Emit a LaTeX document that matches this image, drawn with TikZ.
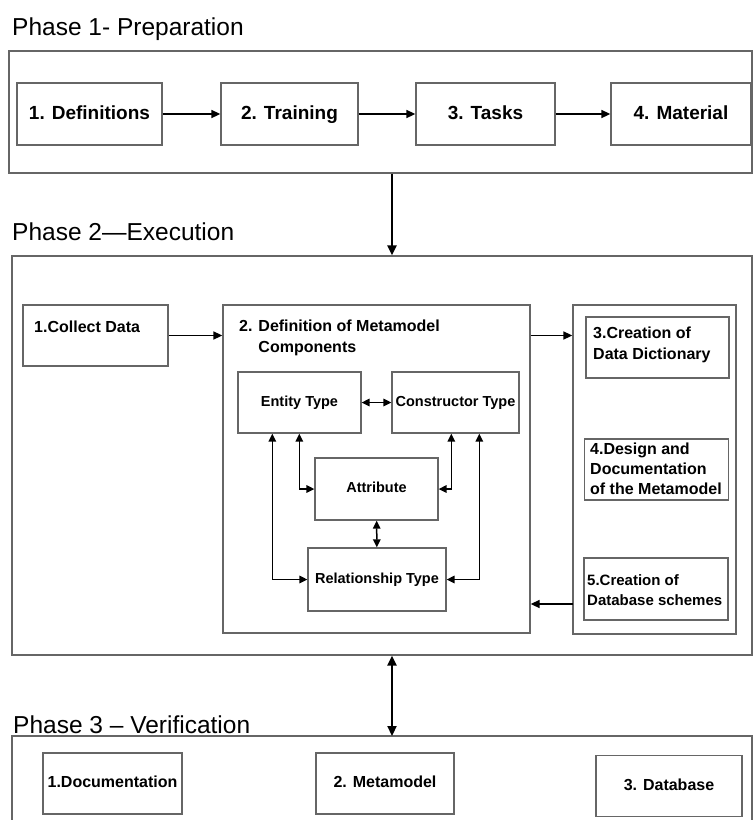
\documentclass[tikz,border=0pt]{standalone}
\usepackage{fontspec}
\setmainfont{Liberation Sans}
\usetikzlibrary{arrows.meta,positioning}

\begin{document}
\begin{tikzpicture}[x=1pt,y=-1pt,
    frame/.style={draw=black!60,line width=1.3pt,inner sep=0pt},
    box/.style={
    % The shape:
    rectangle,inner sep=0pt,
    % The rest
    draw=black!60,line width=1.3pt,font=\bfseries},
    stage/.style={box,text height=14pt,text depth=4pt,font=\bfseries\fontsize{19}{22}\selectfont},
    part/.style={box,text height=10.5pt,text depth=3pt,font=\bfseries\fontsize{14.5}{17}\selectfont},
    check/.style={box,text height=12pt,text depth=3.5pt,font=\bfseries\fontsize{16}{19}\selectfont},
    title/.style={anchor=base west,inner sep=0pt,font=\fontsize{24.5}{28}\selectfont},
    note/.style={anchor=north west,inner sep=0pt,align=left,font=\bfseries\fontsize{16}{21}\selectfont},
    flow/.style={-{Triangle[length=9pt,width=8pt]},line width=1.6pt},
    both/.style={{Triangle[length=8pt,width=7.5pt]}-{Triangle[length=8pt,width=7.5pt]},line width=1.5pt},
    bigflow/.style={-{Triangle[length=10pt,width=9pt]},line width=2.5pt},
    bigboth/.style={{Triangle[length=10pt,width=9pt]}-{Triangle[length=10pt,width=9pt]},line width=2.2pt}]

  \useasboundingbox (0,0) rectangle (753,820);

  % Phase 1
  \node (t1) [title] at (12,35) {Phase 1- Preparation};
  \node (prep) [frame,minimum width=743pt,minimum height=122pt] at (380.5,112) {};
  \node (defs) [stage,minimum width=145pt,minimum height=62pt] at (89.5,114) {1. Definitions};
  \node (train) [stage,minimum width=137pt,minimum height=62pt] at (289.5,114) {2. Training};
  \node (tasks) [stage,minimum width=139pt,minimum height=62pt] at (485.5,114) {3. Tasks};
  \node (material) [stage,minimum width=140pt,minimum height=62pt] at (681,114) {4. Material};
  \draw[flow] (defs) -- (train);
  \draw[flow] (train) -- (tasks);
  \draw[flow] (tasks) -- (material);

  % Phase 2
  \node (t2) [title] at (12,240) {Phase 2---Execution};
  \node (exec) [frame,minimum width=740pt,minimum height=399pt] at (382,455.5) {};
  \draw[bigflow] ([xshift=11.5pt]prep.south) -- ([xshift=10pt]exec.north);

  \node (collect) [box,minimum width=145pt,minimum height=61pt] at (95.5,335.5) {};
  \node (collecttxt) [note] at (34,321) {1.Collect Data};
  \node (metadef) [box,minimum width=307pt,minimum height=328pt] at (376.5,469) {};
  \node (metadeftxt) [note] at (239,320) {2. Definition of Metamodel\\\phantom{2. }Components};
  \node (rightcol) [box,minimum width=163pt,minimum height=329pt] at (654.5,469.5) {};

  \node (entity) [part,minimum width=123pt,minimum height=61pt] at (299.5,402.5) {Entity Type};
  \node (constructor) [part,minimum width=127pt,minimum height=61pt] at (455.5,402.5) {Constructor Type};
  \node (attribute) [part,minimum width=123pt,minimum height=62pt] at (376.5,489) {Attribute};
  \node (relation) [part,minimum width=138pt,minimum height=63pt] at (377,579.5) {Relationship Type};
  \draw[both] (entity) -- (constructor);
  \draw[both] (attribute) -- (relation);
  \draw[both] (relation.west) -| ([xshift=35pt]entity.south west);
  \draw[both] (attribute.west) -| ([xshift=62pt]entity.south west);
  \draw[both] (attribute.east) -| ([xshift=60pt]constructor.south west);
  \draw[both] (relation.east) -| ([xshift=88pt]constructor.south west);

  \node (dict) [box,minimum width=143pt,minimum height=61pt] at (657.5,347.5) {};
  \node (dicttxt) [note] at (593,327) {3.Creation of\\Data Dictionary};
  \node (design) [box,minimum width=144pt,minimum height=61pt] at (656.5,469.5) {};
  \node (designtxt) [note,font=\bfseries\fontsize{16}{20}\selectfont] at (590,443) {4.Design and\\Documentation\\of the Metamodel};
  \node (schemes) [box,minimum width=144pt,minimum height=62pt] at (656,589) {};
  \node (schemestxt) [note,font=\bfseries\fontsize{15}{20}\selectfont] at (587,574) {5.Creation of\\Database schemes};

  \draw[flow] (collect) -- (collect -| metadef.west);
  \draw[flow] (metadef.east |- collect) -- (rightcol.west |- collect);
  \coordinate (back) at (573,604);
  \draw[flow] (back) -- (back -| metadef.east);

  % Phase 3
  \node (t3) [title] at (13,733) {Phase 3 -- Verification};
  \coordinate (verif) at (392,736);
  \draw[frame] (12,822) |- (752,736) -- (752,822);
  \draw[bigboth] ([xshift=10pt]exec.south) -- (verif);
  \node (doc) [check,minimum width=139pt,minimum height=61pt] at (112.5,783.5) {1.Documentation};
  \node (meta) [check,minimum width=138pt,minimum height=61pt] at (385,783.5) {2. Metamodel};
  \node (db) [check,minimum width=146pt,minimum height=61pt] at (669,786) {3. Database};
\end{tikzpicture}
\end{document}
